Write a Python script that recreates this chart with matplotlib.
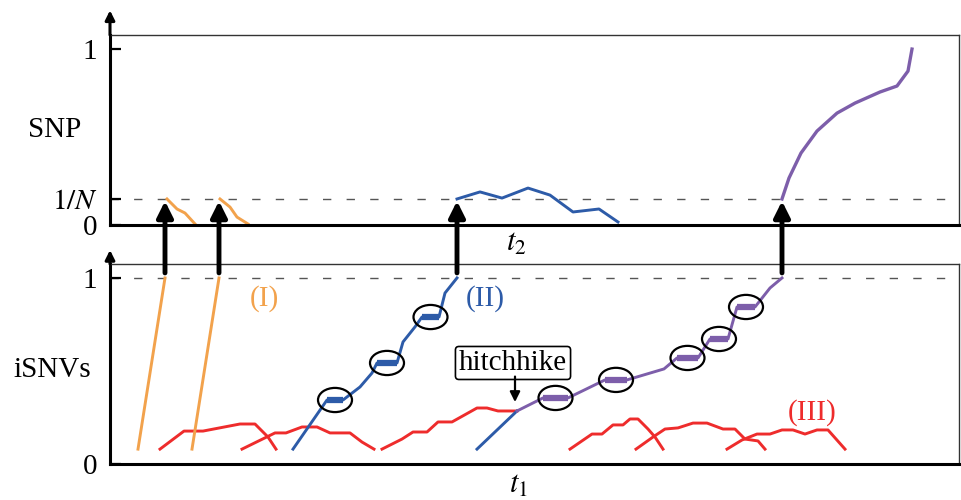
import matplotlib
matplotlib.use('Agg')
import matplotlib.pyplot as plt
from matplotlib.patches import Ellipse, ConnectionPatch

plt.rcParams['font.family'] = ['Liberation Serif', 'DejaVu Serif']
plt.rcParams['mathtext.fontset'] = 'stix'

ORANGE = '#F2A24C'
BLUE = '#2D5BA8'
RED = '#EE2C2C'
PURPLE = '#7D5EAA'
LW = 2.1

# frequency that marks 1/N on the SNP axis
inv_n = 0.148

# ---- SNP panel (top): transmitted variants
snp_orange1_t = [57, 67, 75, 85]
snp_orange1_f = [0.148, 0.091, 0.068, 0.006]
snp_orange2_t = [110, 120, 127, 138]
snp_orange2_f = [0.148, 0.102, 0.045, 0.006]
snp_blue_t = [347, 370, 392, 418, 440, 463, 489, 508]
snp_blue_f = [0.148, 0.188, 0.153, 0.210, 0.170, 0.074, 0.091, 0.017]
snp_purple_t = [672, 679, 691, 707, 727, 745, 770, 787, 798, 802]
snp_purple_f = [0.148, 0.267, 0.409, 0.534, 0.636, 0.693, 0.756, 0.790, 0.875, 1.0]

# ---- iSNV panel (bottom)
isnv_orange1_t = [28, 55]
isnv_orange1_f = [0.08, 1.0]
isnv_orange2_t = [82, 109]
isnv_orange2_f = [0.08, 1.0]

isnv_blue_t = [183, 217, 233, 250, 262, 267, 287, 293, 305, 312, 329, 335, 347]
isnv_blue_f = [0.08, 0.344, 0.344, 0.414, 0.489, 0.543, 0.543, 0.656, 0.737,
               0.790, 0.790, 0.919, 1.0]
isnv_blue_steps = [(217, 233, 0.344), (267, 287, 0.543), (312, 329, 0.790)]

hitch_blue_t = [367, 407]
hitch_blue_f = [0.08, 0.285]

isnv_purple_t = [407, 433, 458, 495, 517, 554, 567, 588, 600, 618, 627, 645, 660, 672]
isnv_purple_f = [0.285, 0.355, 0.355, 0.452, 0.452, 0.511, 0.570, 0.570, 0.672,
                 0.672, 0.844, 0.844, 0.946, 1.0]
isnv_purple_steps = [(433, 458, 0.355), (495, 517, 0.452), (567, 588, 0.570),
                     (600, 618, 0.672), (627, 645, 0.844)]

red_t = [
    [50, 74, 93, 130, 145, 158, 166],
    [132, 165, 176, 192, 207, 220, 240, 252, 264],
    [272, 292, 303, 317, 328, 342, 367, 377, 388, 407],
    [460, 482, 492, 503, 513, 520, 528, 538, 545, 553],
    [526, 543, 555, 568, 583, 597, 613, 625, 635, 648, 655],
    [617, 632, 647, 660, 672, 683, 695, 707, 718, 735],
]
red_f = [
    [0.08, 0.177, 0.177, 0.215, 0.215, 0.145, 0.08],
    [0.08, 0.167, 0.167, 0.199, 0.199, 0.167, 0.167, 0.118, 0.08],
    [0.08, 0.134, 0.172, 0.172, 0.226, 0.226, 0.301, 0.301, 0.285, 0.285],
    [0.08, 0.161, 0.161, 0.210, 0.210, 0.242, 0.242, 0.188, 0.145, 0.08],
    [0.08, 0.145, 0.188, 0.194, 0.220, 0.220, 0.188, 0.188, 0.134, 0.124, 0.08],
    [0.08, 0.129, 0.161, 0.161, 0.183, 0.183, 0.161, 0.183, 0.183, 0.08],
]


def style_axes(ax, ytop, yarrow, ticks, ticklabels):
    ax.set_xlim(0, 849)
    ax.set_ylim(0, ytop)
    for s in ['top', 'right']:
        ax.spines[s].set_color('#333333')
        ax.spines[s].set_linewidth(1.0)
    for s in ['left', 'bottom']:
        ax.spines[s].set_linewidth(2.2)
    ax.set_xticks([])
    ax.set_yticks(ticks)
    ax.set_yticklabels(ticklabels)
    ax.tick_params(axis='y', direction='in', length=8, width=1.6, pad=9, labelsize=21)
    # left axis continues above the frame with an arrow head
    ax.annotate('', xy=(0, yarrow), xytext=(0, ytop), xycoords='data',
                arrowprops=dict(arrowstyle='-|>', lw=2.2, color='black',
                                mutation_scale=14, shrinkA=0, shrinkB=0),
                annotation_clip=False)


fig = plt.figure(figsize=(9.61, 5.0), dpi=100)
ax_top = fig.add_axes([110 / 961, 275 / 500, 849 / 961, 190 / 500])
ax_bot = fig.add_axes([110 / 961, 36 / 500, 849 / 961, 200 / 500])

style_axes(ax_top, 1.08, 1.22, [0, inv_n, 1], ['0', '$1/N$', '1'])
style_axes(ax_bot, 1.075, 1.15, [0, 1], ['0', '1'])

ax_top.axhline(inv_n, color='#555555', lw=1.0, dashes=(6, 11), zorder=1)
ax_bot.axhline(1.0, color='#555555', lw=1.0, dashes=(6, 11), zorder=1)

# top panel
ax_top.plot(snp_orange1_t, snp_orange1_f, color=ORANGE, lw=LW)
ax_top.plot(snp_orange2_t, snp_orange2_f, color=ORANGE, lw=LW)
ax_top.plot(snp_blue_t, snp_blue_f, color=BLUE, lw=LW)
ax_top.plot(snp_purple_t, snp_purple_f, color=PURPLE, lw=LW + 0.3)

# bottom panel
for t, f in zip(red_t, red_f):
    ax_bot.plot(t, f, color=RED, lw=LW)
ax_bot.plot(isnv_orange1_t, isnv_orange1_f, color=ORANGE, lw=LW)
ax_bot.plot(isnv_orange2_t, isnv_orange2_f, color=ORANGE, lw=LW)
ax_bot.plot(isnv_blue_t, isnv_blue_f, color=BLUE, lw=LW)
ax_bot.plot(hitch_blue_t, hitch_blue_f, color=BLUE, lw=LW)
ax_bot.plot(isnv_purple_t, isnv_purple_f, color=PURPLE, lw=LW)

for steps, c in [(isnv_blue_steps, BLUE), (isnv_purple_steps, PURPLE)]:
    for x0, x1, y in steps:
        ax_bot.plot([x0, x1], [y, y], color=c, lw=4.5, solid_capstyle='butt')
        ax_bot.add_patch(Ellipse(((x0 + x1) / 2, y), 34, 0.13, fill=False,
                                 ec='black', lw=1.6, zorder=5))

ax_bot.text(154, 0.887, '(I)', color=ORANGE, fontsize=21, ha='center', va='center')
ax_bot.text(375, 0.887, '(II)', color=BLUE, fontsize=21, ha='center', va='center')
ax_bot.text(702, 0.274, '(III)', color=RED, fontsize=21, ha='center', va='center')

ax_bot.text(403, 0.543, 'hitchhike', fontsize=21, ha='center', va='center',
            bbox=dict(boxstyle='round,pad=0.12', fc='white', ec='black', lw=1.2))
ax_bot.annotate('', xy=(405, 0.333), xytext=(405, 0.47),
                arrowprops=dict(arrowstyle='-|>', lw=1.6, color='black',
                                mutation_scale=15, shrinkA=0, shrinkB=0))

ax_top.yaxis.set_label_coords(-0.065, 0.5)
ax_top.set_ylabel('SNP', rotation=0, fontsize=21, ha='center', va='center')
ax_bot.yaxis.set_label_coords(-0.068, 0.47)
ax_bot.set_ylabel('iSNVs', rotation=0, fontsize=21, ha='center', va='center')

ax_top.text(0.479, -0.095, '$t_2$', transform=ax_top.transAxes, fontsize=22,
            ha='center', va='center')
ax_bot.text(0.481, -0.105, '$t_1$', transform=ax_bot.transAxes, fontsize=22,
            ha='center', va='center')

# fixed iSNVs become SNPs in the next host
for t_fix in [isnv_orange1_t[-1], isnv_orange2_t[-1], isnv_blue_t[-1], isnv_purple_t[-1]]:
    con = ConnectionPatch(xyA=(t_fix, 1.027), coordsA=ax_bot.transData,
                          xyB=(t_fix, inv_n - 0.012), coordsB=ax_top.transData,
                          arrowstyle='-|>', mutation_scale=24, lw=3.5, color='black',
                          shrinkA=0, shrinkB=0)
    fig.add_artist(con)

fig.savefig('out.png', dpi=100)
